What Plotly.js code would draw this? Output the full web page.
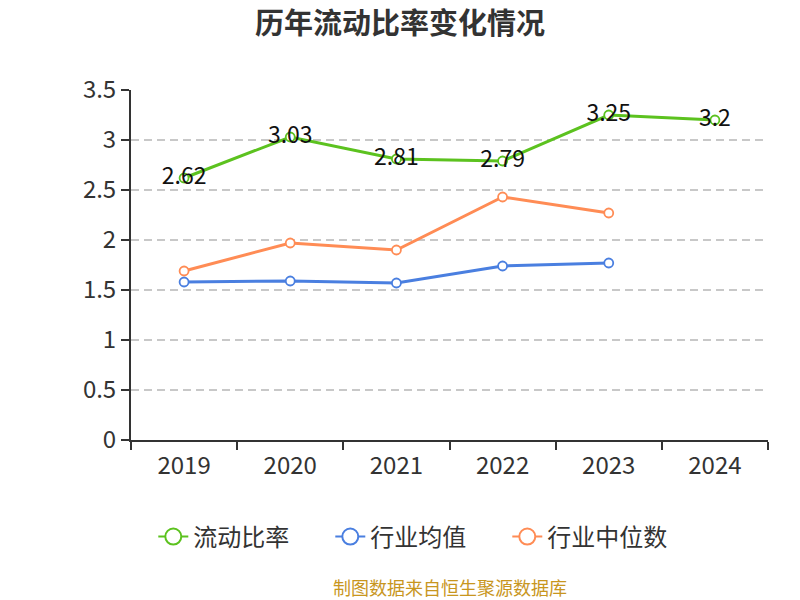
<!DOCTYPE html>
<html><head><meta charset="utf-8">
<script src="https://cdn.plot.ly/plotly-3.0.1.min.js"></script>
<style>body{margin:0}#c{width:800px;height:600px}</style>
</head><body><div id="c"></div>
<script>
const years = ['2019','2020','2021','2022','2023','2024'];
const currentRatio = [2.62, 3.03, 2.81, 2.79, 3.25, 3.2];
const industryMean = [1.58, 1.59, 1.57, 1.74, 1.77];
const industryMedian = [1.69, 1.97, 1.90, 2.43, 2.27];
const seriesNames = ['流动比率','行业均值','行业中位数'];
const colors = ['#5cc21f','#4a7fe0','#ff8c55'];
const font = '"Noto Sans CJK SC", "Noto Sans", sans-serif';

function tr(y, i, withText){
  const t = {
    x: years.slice(0, y.length), y: y, name: seriesNames[i],
    type: 'scatter', mode: withText ? 'lines+markers+text' : 'lines+markers',
    line: {color: colors[i], width: 3},
    marker: {size: 9, color: '#fff', line: {color: colors[i], width: 1.8}},
    cliponaxis: false, hoverinfo: 'x+y', showlegend: false
  };
  if (withText){
    t.text = y.map(v => String(v));
    t.textposition = 'middle center';
    t.textfont = {size: 23, color: '#111', family: font};
  }
  return t;
}
// legend-only entries (no data points) with larger legend symbols
function leg(i){
  return {x: [null], y: [null], name: seriesNames[i], type: 'scatter', mode: 'lines+markers',
          line: {color: colors[i], width: 2},
          marker: {size: 16, color: '#fff', line: {color: colors[i], width: 2}},
          hoverinfo: 'skip', showlegend: true};
}

const data = [tr(currentRatio,0,true), tr(industryMean,1,false), tr(industryMedian,2,false), leg(0), leg(1), leg(2)];

const layout = {
  width: 800, height: 600,
  margin: {l: 131, r: 32, t: 90, b: 160},
  paper_bgcolor: '#fff', plot_bgcolor: '#fff',
  font: {family: font, color: '#333'},
  title: {text: '<b>历年流动比率变化情况</b>', x: 0.5, xanchor: 'center', y: 0.96, yanchor: 'middle',
          font: {size: 29, color: '#333', family: font}},
  xaxis: {type: 'category', range: [-0.5, 5.5], showgrid: false, zeroline: false,
          showline: true, linecolor: '#333', linewidth: 2,
          ticks: 'outside', tickson: 'boundaries', ticklen: 8, tickwidth: 2, tickcolor: '#333',
          ticklabelstandoff: 3,
          tickfont: {size: 24, color: '#333', family: font}},
  yaxis: {range: [0, 3.5], dtick: 0.5, showgrid: true, gridcolor: '#c8c8c8', griddash: '8px,5px', gridwidth: 1.5,
          zeroline: false, showline: true, linecolor: '#333', linewidth: 2,
          ticks: 'outside', ticklen: 8, tickwidth: 2, tickcolor: '#333',
          tickfont: {size: 24, color: '#333', family: font}},
  showlegend: true,
  legend: {orientation: 'h', x: 0.035, xanchor: 'left', y: -0.277, yanchor: 'middle',
           font: {size: 24, color: '#333', family: font}, entrywidth: 132, entrywidthmode: 'pixels'},
  annotations: [{text: '制图数据来自恒生聚源数据库', xref: 'paper', yref: 'paper', x: 0.5, y: -0.42,
                 xanchor: 'center', yanchor: 'middle', showarrow: false,
                 font: {size: 18, color: '#c8961e', family: font}}]
};
Plotly.newPlot('c', data, layout, {displayModeBar: false});
</script></body></html>
